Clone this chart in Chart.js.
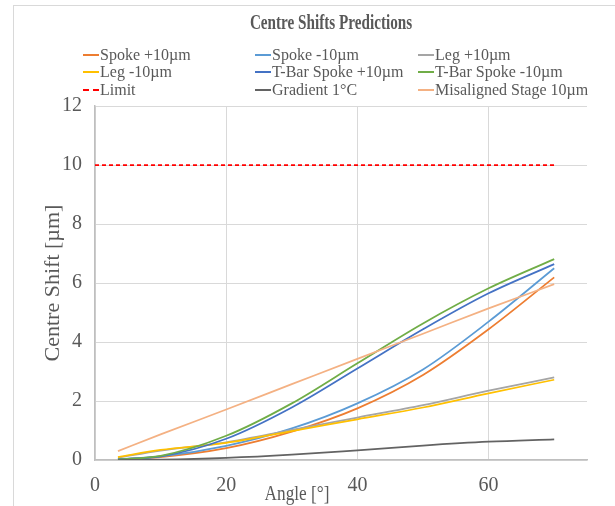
<!DOCTYPE html>
<html>
<head>
<meta charset="utf-8">
<script src="https://cdn.jsdelivr.net/npm/chart.js@4"></script>
<style>
  html, body { margin: 0; padding: 0; background: #fff; }
  body { width: 615px; height: 506px; overflow: hidden; position: relative; font-family: "Liberation Serif", "Times New Roman", serif; }
  #frame { position: absolute; left: 13px; top: 5px; width: 700px; height: 600px; border-left: 1px solid #D9D9D9; border-top: 1px solid #D9D9D9; }
  #chart { position: absolute; left: 0; top: 0; }
  #title { position: absolute; left: 331px; top: 22px; transform: translate(-50%, -50%) scaleX(0.69); white-space: nowrap; font-weight: bold; font-size: 22px; color: #595959; }
  #legend { position: absolute; left: 83px; top: 46px; display: grid; grid-template-columns: 172px 163px 190px; grid-auto-rows: 17.5px; }
  .li { display: flex; align-items: center; white-space: nowrap; font-size: 16px; color: #595959; }
  .sw { width: 16px; height: 0; margin-right: 1px; }
  #xtitle { position: absolute; left: 297px; top: 493px; transform: translate(-50%, -50%) scaleX(0.82); white-space: nowrap; font-size: 21px; color: #595959; }
</style>
</head>
<body>
<div id="frame"></div>
<canvas id="chart" width="615" height="506"></canvas>
<div id="title"></div>
<div id="legend"></div>
<div id="xtitle"></div>
<script>
// ---- data ----
const chartTitle = "Centre Shifts Predictions";
const xAxisTitle = "Angle [°]";
const yAxisTitle = "Centre Shift [µm]";
const angles = [3.5, 10, 20, 30, 40, 50, 60, 70];
const spokePlus  = [0.03, 0.10, 0.40, 0.96, 1.75, 2.88, 4.43, 6.19];
const spokeMinus = [0.03, 0.12, 0.48, 1.07, 1.92, 3.07, 4.69, 6.50];
const legPlus    = [0.08, 0.32, 0.60, 1.02, 1.44, 1.86, 2.35, 2.80];
const legMinus   = [0.10, 0.34, 0.58, 0.98, 1.38, 1.78, 2.26, 2.72];
const tbarPlus   = [0.02, 0.12, 0.72, 1.78, 3.10, 4.43, 5.65, 6.64];
const tbarMinus  = [0.02, 0.14, 0.82, 1.92, 3.28, 4.63, 5.82, 6.81];
const limitAngles = [0, 70];
const limitValues = [10, 10];
const gradient   = [0.00, 0.01, 0.07, 0.18, 0.33, 0.49, 0.62, 0.70];
const misaligned = [0.30, 0.87, 1.71, 2.57, 3.43, 4.28, 5.14, 5.96];
const seriesNames = ["Spoke +10µm", "Spoke -10µm", "Leg +10µm", "Leg -10µm", "T-Bar Spoke +10µm", "T-Bar Spoke -10µm", "Limit", "Gradient 1°C", "Misaligned Stage 10µm"];
const xTicks = [0, 20, 40, 60];
const yTicks = [0, 2, 4, 6, 8, 10, 12];

// ---- styles ----
const colors = ["#ED7D31", "#5B9BD5", "#A5A5A5", "#FFC000", "#4472C4", "#70AD47", "#FF0000", "#636363", "#F4B183"];
const seriesX = [angles, angles, angles, angles, angles, angles, limitAngles, angles, angles];
const seriesY = [spokePlus, spokeMinus, legPlus, legMinus, tbarPlus, tbarMinus, limitValues, gradient, misaligned];

const datasets = seriesNames.map((name, i) => ({
  label: name,
  data: seriesX[i].map((x, j) => ({ x: x, y: seriesY[i][j] })),
  borderColor: colors[i],
  backgroundColor: colors[i],
  borderWidth: 1.75,
  borderDash: name === "Limit" ? [4, 3] : [],
  showLine: true,
  pointRadius: 0,
  pointHoverRadius: 0,
  cubicInterpolationMode: 'monotone',
  fill: false,
  order: 20 - i
}));

const textColor = "#595959";
const fontFamily = "'Liberation Serif', 'Times New Roman', serif";

new Chart(document.getElementById('chart'), {
  type: 'scatter',
  data: { datasets: datasets },
  options: {
    responsive: false,
    animation: false,
    events: [],
    layout: { padding: { top: 106, right: 28, left: 0, bottom: 0 } },
    plugins: { legend: { display: false }, title: { display: false }, tooltip: { enabled: false } },
    scales: {
      x: {
        type: 'linear', min: 0, max: 75,
        afterBuildTicks: s => { s.ticks = xTicks.map(v => ({ value: v })); },
        afterFit: s => { s.height = 46; },
        ticks: { color: textColor, font: { family: fontFamily, size: 20 }, padding: 14, maxRotation: 0 },
        grid: { color: "#D9D9D9", lineWidth: 1, drawTicks: false },
        border: { color: "#BFBFBF", width: 1.5 },
        title: { display: false }
      },
      y: {
        type: 'linear', min: 0, max: 12,
        afterBuildTicks: s => { s.ticks = yTicks.map(v => ({ value: v })); },
        afterFit: s => { s.width = 95; },
        ticks: { color: textColor, font: { family: fontFamily, size: 20 }, padding: 13 },
        grid: { color: "#D9D9D9", lineWidth: 1, drawTicks: false },
        border: { color: "#BFBFBF", width: 1.5 },
        title: { display: true, text: yAxisTitle, color: textColor, font: { family: fontFamily, size: 22, weight: 'normal' }, padding: { top: 40, bottom: 0 } }
      }
    }
  }
});

// HTML title, legend, x-axis title
document.getElementById('title').textContent = chartTitle;
document.getElementById('xtitle').textContent = xAxisTitle;
const leg = document.getElementById('legend');
seriesNames.forEach((name, i) => {
  const item = document.createElement('div');
  item.className = 'li';
  const sw = document.createElement('span');
  sw.className = 'sw';
  sw.style.borderTop = (name === "Limit" ? "2px dashed " : "2px solid ") + colors[i];
  const tx = document.createElement('span');
  tx.textContent = name;
  item.appendChild(sw);
  item.appendChild(tx);
  leg.appendChild(item);
});
</script>
</body>
</html>
